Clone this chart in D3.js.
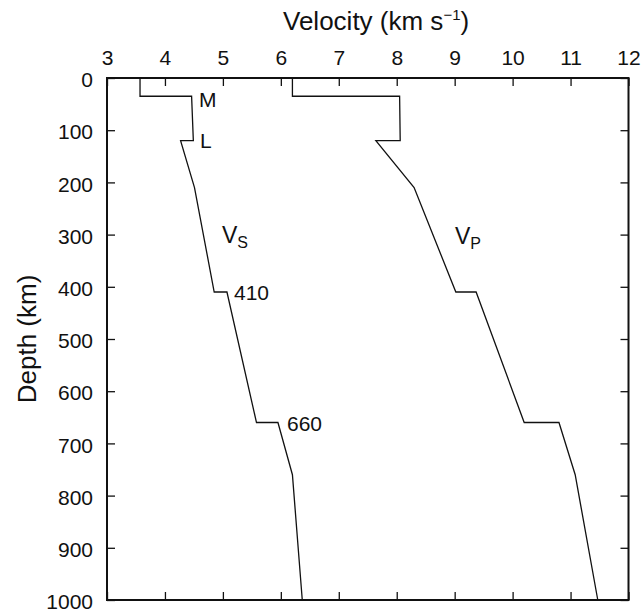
<!DOCTYPE html>
<html><head><meta charset="utf-8">
<script src="https://cdn.jsdelivr.net/npm/d3@7"></script>
<style>
body{margin:0;background:#fff;}
text{font-family:"Liberation Sans",Arial,Helvetica,sans-serif;fill:#111;}
</style></head>
<body>
<script>
const depths = [0, 35, 35, 120, 120, 210, 410, 410, 660, 660, 760, 1000];
const vsValues = [3.57, 3.57, 4.46, 4.49, 4.27, 4.51, 4.85, 5.07, 5.58, 5.95, 6.20, 6.37];
const vpValues = [6.20, 6.20, 8.05, 8.06, 7.64, 8.30, 9.02, 9.37, 10.20, 10.80, 11.08, 11.47];
const xTicks = [3, 4, 5, 6, 7, 8, 9, 10, 11, 12];
const yTicks = [0, 100, 200, 300, 400, 500, 600, 700, 800, 900, 1000];

const W = 642, H = 612;
const svg = d3.select("body").append("svg").attr("width", W).attr("height", H);
const x = d3.scaleLinear().domain([3, 12]).range([107, 628.5]);
const y = d3.scaleLinear().domain([0, 1000]).range([78, 600]);

function styleAxis(g){
  g.select(".domain").remove();
  g.selectAll(".tick line").attr("stroke", "#111").attr("stroke-width", 1.3);
  g.selectAll(".tick text").attr("font-size", 21).attr("fill", "#111")
    .style("font-family", '"Liberation Sans",Arial,sans-serif');
}

svg.append("g").attr("transform", `translate(0,${y(0)})`)
  .call(d3.axisTop(x).tickValues(xTicks).tickSize(-8).tickPadding(13).tickFormat(d3.format("d")))
  .call(styleAxis);
svg.append("g").attr("transform", `translate(0,${y(1000)})`)
  .call(d3.axisBottom(x).tickValues(xTicks).tickSize(-8).tickFormat(""))
  .call(styleAxis);
const yAxisG = svg.append("g").attr("transform", `translate(${x(3)},0)`)
  .call(d3.axisLeft(y).tickValues(yTicks).tickSize(-8).tickPadding(14).tickFormat(d3.format("d")))
  .call(styleAxis);
yAxisG.selectAll(".tick text").attr("dy", "0.41em");
svg.append("g").attr("transform", `translate(${x(12)},0)`)
  .call(d3.axisRight(y).tickValues(yTicks).tickSize(-8).tickFormat(""))
  .call(styleAxis);

svg.append("rect").attr("x", x(3)).attr("y", y(0))
  .attr("width", x(12) - x(3)).attr("height", y(1000) - y(0))
  .attr("fill", "none").attr("stroke", "#111").attr("stroke-width", 2);

const line = d3.line().x(d => x(d[0])).y(d => y(d[1]));
[vsValues, vpValues].forEach(vals => {
  svg.append("path").datum(vals.map((v, i) => [v, depths[i]]))
    .attr("d", line).attr("fill", "none").attr("stroke", "#111").attr("stroke-width", 1.3);
});

// Discontinuity labels
svg.append("text").attr("x", 199).attr("y", 107).attr("font-size", 21).text("M");
svg.append("text").attr("x", 200).attr("y", 148).attr("font-size", 21).text("L");
svg.append("text").attr("x", 234).attr("y", 300).attr("font-size", 21).text("410");
svg.append("text").attr("x", 287).attr("y", 431).attr("font-size", 21).text("660");

const vs = svg.append("text").attr("x", 222).attr("y", 243).attr("font-size", 23);
vs.append("tspan").text("V");
vs.append("tspan").attr("font-size", 16).attr("dy", 5).text("S");
const vp = svg.append("text").attr("x", 455).attr("y", 244).attr("font-size", 23);
vp.append("tspan").text("V");
vp.append("tspan").attr("font-size", 16).attr("dy", 5).text("P");

// Axis titles
const xt = svg.append("text").attr("x", 283).attr("y", 30).attr("font-size", 26);
xt.append("tspan").text("Velocity (km s");
xt.append("tspan").attr("font-size", 15).attr("dy", -10).text("\u22121");
xt.append("tspan").attr("dy", 10).text(")");

svg.append("text").attr("transform", `translate(36,${(y(0)+y(1000))/2}) rotate(-90)`)
  .attr("text-anchor", "middle").attr("font-size", 26).text("Depth (km)");
</script>
</body></html>
